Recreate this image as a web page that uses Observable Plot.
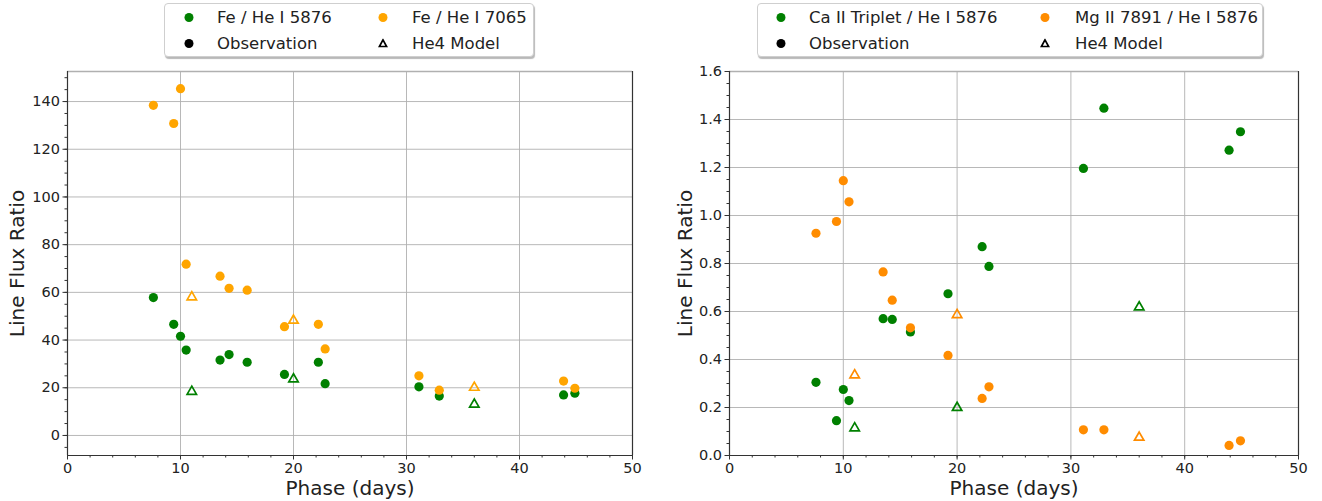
<!DOCTYPE html>
<html><head><meta charset="utf-8">
<script src="https://cdn.jsdelivr.net/npm/d3@7"></script>
<script src="https://cdn.jsdelivr.net/npm/@observablehq/plot@0.6"></script>
<style>
body{margin:0;background:#fff;font-family:"DejaVu Sans",sans-serif;}
#wrap{position:relative;width:1322px;height:501px;overflow:hidden;background:#fff;}
.panel{position:absolute;top:0;}
.legend{position:absolute;top:3px;height:54px;box-sizing:border-box;border:1px solid #cfcfcf;border-radius:4px;background:#fff;box-shadow:1px 2px 1px rgba(0,0,0,0.28);font-size:16.5px;color:#222;}
.li{position:absolute;white-space:nowrap;line-height:17px;transform:translateY(-50%);}
.mk{position:absolute;transform:translate(-50%,-50%);}
</style></head><body><div id="wrap"></div>
<script>
// ---- data ----
const phaseObs = [7.6, 9.4, 10.0, 10.5, 13.5, 14.3, 15.9, 19.2, 22.2, 22.8, 31.1, 32.9, 43.9, 44.9];
const phaseModel = [11, 20, 36];
// left panel
const feHe5876 = [57.8, 46.6, 41.6, 35.8, 31.6, 33.9, 30.7, 25.6, 30.7, 21.7, 20.4, 16.5, 17.0, 17.7];
const feHe7065 = [138.4, 130.8, 145.4, 71.8, 66.8, 61.7, 60.9, 45.6, 46.6, 36.3, 25.0, 19.0, 22.8, 19.8];
const modelFe5876 = [18.4, 23.6, 13.0];
const modelFe7065 = [58.0, 48.2, 20.1];
// right panel
const caHe5876 = [0.305, 0.145, 0.275, 0.229, 0.570, 0.567, 0.515, 0.674, 0.870, 0.788, 1.196, 1.447, 1.272, 1.349];
const mgHe5876 = [0.926, 0.975, 1.145, 1.057, 0.765, 0.647, 0.532, 0.417, 0.238, 0.286, 0.107, 0.107, 0.042, 0.061];
const modelCa = [0.114, 0.199, 0.618];
const modelMg = [0.335, 0.586, 0.075];
// ticks
const xTicks = [0, 10, 20, 30, 40, 50];
const leftYTicks = [0, 20, 40, 60, 80, 100, 120, 140];
const rightYTicks = [0.0, 0.2, 0.4, 0.6, 0.8, 1.0, 1.2, 1.4, 1.6];
const xLabel = "Phase (days)";
const yLabel = "Line Flux Ratio";
const leftLegend = ["Fe / He I 5876", "Fe / He I 7065", "Observation", "He4 Model"];
const rightLegend = ["Ca II Triplet / He I 5876", "Mg II 7891 / He I 5876", "Observation", "He4 Model"];

const GREEN = "#008000", ORANGE = "#FFA500", DARKORANGE = "#FF8C00";
const GRID = "#b0b0b0", SPINE = "#333";

function panel(o) {
  const xMinor = d3.range(0, 50.01, 2);
  return Plot.plot({
    width: o.width, height: 501,
    marginLeft: o.ml, marginRight: o.mr, marginTop: 71, marginBottom: 46,
    style: {fontFamily: "DejaVu Sans", fontSize: "14.5px", color: "#222", background: "transparent", overflow: "visible"},
    x: {domain: [0, 50], label: null},
    y: {domain: o.yDomain, label: null},
    marks: [
      Plot.gridX({ticks: xTicks, stroke: GRID, strokeOpacity: 1, strokeWidth: 0.9}),
      Plot.gridY({ticks: o.yTicks, stroke: GRID, strokeOpacity: 1, strokeWidth: 0.9}),
      Plot.axisX({ticks: xMinor, tickSize: 2.5, tickFormat: () => "", label: null, stroke: SPINE}),
      Plot.axisX({ticks: xTicks, tickSize: 4.5, tickPadding: 3, label: null, stroke: SPINE, fill: "#222", tickFormat: d => String(d)}),
      Plot.axisY({ticks: o.yMinor, tickSize: 2.5, tickFormat: () => "", label: null, stroke: SPINE}),
      Plot.axisY({ticks: o.yTicks, tickSize: 4.5, tickPadding: 3, label: null, stroke: SPINE, fill: "#222", tickFormat: o.yFormat}),
      Plot.ruleY([o.yDomain[1]], {stroke: GRID, strokeWidth: 1.6}),
      Plot.ruleX([0, 50], {stroke: SPINE, strokeWidth: 1.2}),
      Plot.ruleY([o.yDomain[0]], {stroke: SPINE, strokeWidth: 1.2}),
      Plot.dot(phaseObs, {x: phaseObs, y: o.s1, r: 4.6, fill: GREEN, stroke: null}),
      Plot.dot(phaseObs, {x: phaseObs, y: o.s2, r: 4.6, fill: o.c2, stroke: null}),
      Plot.dot(phaseModel, {x: phaseModel, y: o.m1, r: 3.5, symbol: "triangle", stroke: GREEN, strokeWidth: 1.7, fill: "none"}),
      Plot.dot(phaseModel, {x: phaseModel, y: o.m2, r: 3.5, symbol: "triangle", stroke: o.c2, strokeWidth: 1.7, fill: "none"}),
      Plot.text([xLabel], {frameAnchor: "bottom", dy: 39, lineAnchor: "bottom", textAnchor: "middle", fontSize: 20, fill: "#222", text: d => d}),
      Plot.text([yLabel], {frameAnchor: "left", dx: o.ylDx, dy: 0, rotate: -90, lineAnchor: "bottom", textAnchor: "middle", fontSize: 20, fill: "#222", text: d => d})
    ]
  });
}

const wrap = document.getElementById("wrap");

const left = panel({
  width: 661, ml: 67, mr: 29,
  yDomain: [-8.4, 152.6], yTicks: leftYTicks, yMinor: d3.range(-5, 152, 5),
  yFormat: d => String(d),
  s1: feHe5876, s2: feHe7065, m1: modelFe5876, m2: modelFe7065, c2: ORANGE, ylDx: -44
});
left.classList.add("panel"); left.style.left = "0px";
wrap.appendChild(left);

const right = panel({
  width: 661, ml: 68, mr: 24,
  yDomain: [0, 1.6], yTicks: rightYTicks, yMinor: d3.range(0, 1.601, 0.05),
  yFormat: d3.format(".1f"),
  s1: caHe5876, s2: mgHe5876, m1: modelCa, m2: modelMg, c2: DARKORANGE, ylDx: -38
});
right.classList.add("panel"); right.style.left = "661px";
wrap.appendChild(right);

function circleSvg(c) {
  return `<svg width="10" height="10"><circle cx="5" cy="5" r="4.5" fill="${c}"/></svg>`;
}
function triSvg(c) {
  return `<svg width="10" height="10"><polygon points="5,1.3 8.6,8 1.4,8" fill="none" stroke="${c}" stroke-width="1.7" stroke-linejoin="miter"/></svg>`;
}
function legend(left, width, labels, c2, cols) {
  const box = document.createElement("div");
  box.className = "legend";
  box.style.left = left + "px"; box.style.width = width + "px";
  const rows = [13, 39];
  const items = [
    [cols[0], cols[1], rows[0], circleSvg(GREEN), labels[0]],
    [cols[2], cols[3], rows[0], circleSvg(c2), labels[1]],
    [cols[0], cols[1], rows[1], circleSvg("#000"), labels[2]],
    [cols[2], cols[3], rows[1], triSvg("#000"), labels[3]]
  ];
  for (const [mx, tx, y, svg, lab] of items) {
    const m = document.createElement("div");
    m.className = "mk"; m.style.left = mx + "px"; m.style.top = y + "px"; m.innerHTML = svg;
    box.appendChild(m);
    const t = document.createElement("div");
    t.className = "li"; t.style.left = tx + "px"; t.style.top = y + "px"; t.textContent = lab;
    box.appendChild(t);
  }
  wrap.appendChild(box);
}
legend(164, 370, leftLegend, ORANGE, [24, 52, 218, 247]);
legend(757, 506, rightLegend, DARKORANGE, [23, 51, 287, 317]);
</script>
</body></html>
